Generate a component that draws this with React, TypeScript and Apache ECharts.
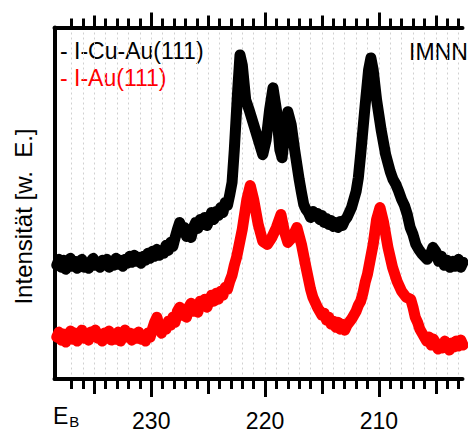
import React, { useEffect, useRef } from "react";
import * as echarts from "echarts";

// Binding energy axis (eV), reversed
const X_LEFT = 238.5;
const X_RIGHT = 202.65;
const minorTicks: number[] = [203, 204, 205, 206, 207, 208, 209, 210, 211, 212, 213, 214, 215, 216, 217, 218, 219, 220, 221, 222, 223, 224, 225, 226, 227, 228, 229, 230, 231, 232, 233, 234, 235, 236, 237];
const mediumTicks: number[] = [205, 215, 225, 235];
const majorTicks: number[] = [210, 220, 230];

// I-Cu-Au(111)
const energyBlack: number[] = [
  238.3, 238.1, 237.9, 237.7, 237.5, 237.3, 237.1, 236.9, 236.7, 236.5, 236.3, 236.1, 235.9, 235.7, 235.5, 235.3, 235.1, 234.9, 234.7, 234.5, 234.3, 234.1, 233.9, 233.7, 233.5, 233.3, 233.1, 232.9, 232.7, 232.5, 232.3, 232.1, 231.9, 231.7, 231.5, 231.3, 231.1, 230.9, 230.7, 230.5, 230.3, 230.1, 229.9, 229.7, 229.5, 229.3, 229.1, 228.9, 228.7, 228.5, 228.3, 228.1, 227.9, 227.7, 227.5, 227.3, 227.1, 226.9, 226.7, 226.5, 226.3, 226.1, 225.9, 225.7, 225.5, 225.3, 225.1, 224.9, 224.7, 224.5, 224.3, 224.1, 223.9, 223.7, 223.5, 223.3, 223.1, 222.9,
  222.7, 222.4, 222.2, 222, 221.7, 221.4, 221, 220.6, 220.2, 219.9, 219.6, 219.3, 219, 218.7, 218.5, 218.2, 218, 217.7, 217.4,
  217, 216.8, 216.6, 216.4, 216.2, 216, 215.8, 215.6, 215.4, 215.2, 215, 214.8, 214.6, 214.4, 214.2, 214, 213.8, 213.6, 213.4, 213.2, 213, 212.8, 212.6, 212.4, 212.2, 212, 211.8,
  211.6, 211.2, 210.9, 210.7, 210.5, 210.2, 209.8, 209.4,
  209, 208.75, 208.5, 208.25, 208, 207.75, 207.5, 207.25, 207, 206.75, 206.5, 206.25, 206, 205.75, 205.5, 205.25, 205, 204.75, 204.5, 204.25, 204, 203.75, 203.5, 203.25, 203, 202.8, 202.6,
];
const intensityBlack: number[] = [
  112, 118, 110, 117, 108, 114, 119, 111, 116, 109, 115, 118, 110, 114, 109, 116, 119, 112, 115, 110, 117, 113, 118, 110, 115, 112, 119, 113, 117, 111, 118, 114, 121, 115, 122, 116, 120, 114, 121, 117, 124, 119, 126, 121, 128, 122, 127, 124, 132, 127, 135, 131, 140, 148, 155, 147, 150, 141, 146, 140, 150, 155, 149, 158, 153, 160, 152, 158, 165, 158, 166, 162, 170, 165, 175, 172, 183, 195,
  228, 288, 323, 313, 278, 268, 253, 238, 223, 238, 268, 290, 268, 228, 220, 253, 266, 253, 228,
  198, 185, 173, 168, 165, 160, 166, 161, 164, 158, 162, 155, 159, 153, 157, 151, 155, 150, 156, 152, 157, 160, 165, 170, 178, 186, 200,
  223, 273, 308, 320, 308, 278, 248, 223,
  206, 198, 193, 186, 178, 172, 163, 150, 143, 133, 128, 124, 121, 118, 122, 130, 126, 116, 121, 112, 117, 110, 116, 111, 118, 110, 115,
];

// I-Au(111)
const energyRed: number[] = [
  238.3, 238.1, 237.9, 237.7, 237.5, 237.3, 237.1, 236.9, 236.7, 236.5, 236.3, 236.1, 235.9, 235.7, 235.5, 235.3, 235.1, 234.9, 234.7, 234.5, 234.3, 234.1, 233.9, 233.7, 233.5, 233.3, 233.1, 232.9, 232.7, 232.5, 232.3, 232.1, 231.9, 231.7, 231.5, 231.3, 231.1, 230.9, 230.7, 230.5, 230.3, 230.1, 229.9, 229.7, 229.5, 229.3, 229.1, 228.9, 228.7, 228.5, 228.3, 228.1, 227.9, 227.7, 227.5, 227.3, 227.1, 226.9, 226.7, 226.5, 226.3, 226.1, 225.9, 225.7, 225.5, 225.3, 225.1, 224.9, 224.7, 224.5, 224.3, 224.1, 223.9, 223.7, 223.5, 223.3, 223.1, 222.9, 222.7, 222.5,
  222, 221.6, 221.3, 221, 220.6, 220.2, 219.8, 219.4, 219, 218.6, 218.3, 218, 217.6, 217.2, 216.8, 216.4,
  216, 215.8, 215.6, 215.4, 215.2, 215, 214.8, 214.6, 214.4, 214.2, 214, 213.8, 213.6, 213.4, 213.2, 213, 212.8, 212.6, 212.4, 212.2, 212, 211.8, 211.6, 211.4, 211.2, 211,
  210.5, 210.2, 209.9, 209.6, 209.2, 208.8, 208.4, 208, 207.6,
  207.2, 207, 206.8, 206.6, 206.4, 206.2, 206, 205.8, 205.6, 205.4, 205.2, 205, 204.8, 204.6, 204.4, 204.2, 204, 203.8, 203.6, 203.4, 203.2, 203, 202.8, 202.6,
];
const intensityRed: number[] = [
  40, 45, 37, 43, 35, 42, 46, 38, 44, 36, 43, 47, 39, 44, 37, 45, 41, 47, 39, 43, 36, 44, 40, 46, 37, 42, 38, 45, 36, 41, 47, 40, 44, 37, 43, 39, 45, 38, 42, 36, 44, 40, 48, 55, 60, 50, 44, 52, 48, 56, 52, 60, 55, 66, 70, 62, 67, 60, 70, 74, 66, 72, 65, 76, 72, 78, 70, 77, 82, 76, 84, 78, 86, 82, 90, 88, 96, 102, 112, 120,
  148, 178, 192, 178, 153, 136, 133, 140, 150, 163, 146, 135, 140, 150, 133, 110,
  88, 80, 75, 70, 66, 62, 64, 57, 60, 53, 56, 50, 55, 48, 53, 47, 52, 55, 58, 62, 66, 72, 76, 84, 95, 103,
  133, 158, 170, 156, 130, 110, 96, 86, 80,
  78, 70, 60, 55, 48, 44, 40, 36, 40, 32, 38, 34, 28, 33, 29, 36, 31, 27, 34, 30, 36, 31, 37, 32,
];

const FONT = "Liberation Sans, Arial, sans-serif";

function makeAxis(position: "top" | "bottom", values: number[], length: number, opts: any = {}) {
  return {
    type: "value",
    position,
    min: X_RIGHT,
    max: X_LEFT,
    inverse: true,
    axisLine: { show: false, onZero: false },
    axisTick: {
      show: true,
      inside: false,
      length,
      customValues: values,
      lineStyle: { color: "#000", width: 3 },
    },
    axisLabel: { show: false },
    splitLine: { show: false },
    ...opts,
  };
}

export default function App() {
  const ref = useRef<HTMLDivElement>(null);
  useEffect(() => {
    if (!ref.current) return;
    const chart = echarts.init(ref.current, null, { renderer: "svg" });
    const blackData = energyBlack.map((e, i) => [e, intensityBlack[i]]);
    const redData = energyRed.map((e, i) => [e, intensityRed[i]]);
    chart.setOption({
      animation: false,
      backgroundColor: "#fff",
      grid: { left: 54.5, right: 7.5, top: 27.5, bottom: 52, containLabel: false },
      xAxis: [
        makeAxis("bottom", minorTicks, 10, {
          axisLine: { show: true, onZero: false, lineStyle: { color: "#000", width: 4 } },
          splitLine: {
            show: true,
            lineStyle: { color: "#d0d0d0", width: 1, type: [2, 3] },
          },
        }),
        makeAxis("bottom", mediumTicks, 15),
        makeAxis("bottom", majorTicks, 18, {
          axisLabel: {
            show: true,
            customValues: majorTicks,
            margin: 30,
            fontSize: 23,
            color: "#000",
            fontFamily: FONT,
          },
        }),
        makeAxis("top", minorTicks, 9, {
          axisLine: { show: true, onZero: false, lineStyle: { color: "#000", width: 4 } },
        }),
        makeAxis("top", mediumTicks, 12),
        makeAxis("top", majorTicks, 15),
      ],
      yAxis: {
        type: "value",
        min: -2,
        max: 350.5,
        axisLine: { show: true, onZero: false, lineStyle: { color: "#000", width: 4 } },
        axisTick: { show: false },
        axisLabel: { show: false },
        splitLine: { show: false },
      },
      series: [
        {
          type: "line",
          name: "I-Cu-Au(111)",
          xAxisIndex: 0,
          data: blackData,
          symbol: "none",
          clip: false,
          lineStyle: { color: "#000", width: 11, cap: "round", join: "round" },
        },
        {
          type: "line",
          name: "I-Au(111)",
          xAxisIndex: 0,
          data: redData,
          symbol: "none",
          clip: false,
          lineStyle: { color: "#ff0000", width: 11, cap: "round", join: "round" },
        },
      ],
      graphic: [
        {
          type: "text",
          left: 60,
          top: 39.5,
          style: { text: "- I-Cu-Au(111)", fill: "#000", font: `23px ${FONT}` },
        },
        {
          type: "text",
          left: 60,
          top: 66,
          style: { text: "- I-Au(111)", fill: "#ff0000", font: `23px ${FONT}` },
        },
        {
          type: "text",
          left: 409,
          top: 40.5,
          style: { text: "IMNN", fill: "#000", font: `23px ${FONT}` },
        },
        {
          type: "text",
          x: 23,
          y: 216.5,
          rotation: Math.PI / 2,
          style: {
            text: "Intensität [w.  E.]",
            fill: "#000",
            font: `24px ${FONT}`,
            align: "center",
            verticalAlign: "middle",
          },
        },
        {
          type: "text",
          left: 53,
          top: 404,
          style: {
            text: "{e|E}{b|B}",
            fill: "#000",
            rich: {
              e: { fontSize: 23, fontFamily: FONT, fill: "#000" },
              b: { fontSize: 15, fontFamily: FONT, fill: "#000", padding: [12, 0, 0, 1] },
            },
          },
        },
      ],
    });
    return () => chart.dispose();
  }, []);
  return (
    <div
      ref={ref}
      style={{ position: "fixed", left: 0, top: 0, width: 470, height: 432 }}
    />
  );
}
